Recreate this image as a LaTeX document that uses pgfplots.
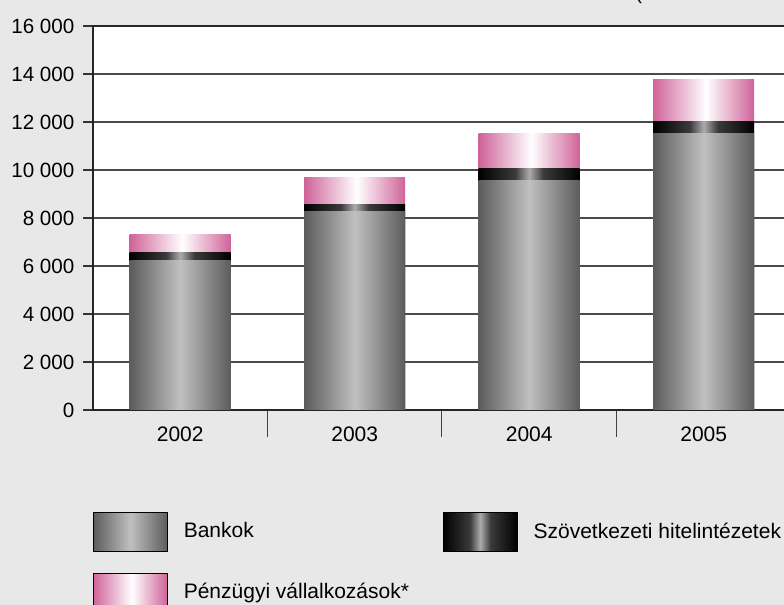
\documentclass[border=0pt]{standalone}
\usepackage{pgfplots}
\pgfplotsset{compat=1.18}
\usepackage{fontspec}
\setmainfont{Liberation Sans}

\definecolor{bg}{HTML}{E8E8E8}
\definecolor{bankedge}{HTML}{5C5C5C}
\definecolor{bankmid}{HTML}{C0C0C0}
\definecolor{szovmid}{HTML}{ACACAC}
\definecolor{szovdark}{HTML}{3A3A3A}
\definecolor{penzedge}{HTML}{CF6399}
\definecolor{penzmid}{HTML}{FFFFFF}
\definecolor{gridc}{HTML}{4A4A4A}

% horizontal shadings: the bar spans 25bp..75bp
\pgfdeclarehorizontalshading{bankshade}{100bp}{color(0bp)=(bankedge); color(25bp)=(bankedge); color(50bp)=(bankmid); color(75bp)=(bankedge); color(100bp)=(bankedge)}
\pgfdeclarehorizontalshading{szovshade}{100bp}{color(0bp)=(black); color(25bp)=(black); color(43bp)=(szovdark); color(50bp)=(szovmid); color(57bp)=(szovdark); color(75bp)=(black); color(100bp)=(black)}
\pgfdeclarehorizontalshading{penzshade}{100bp}{color(0bp)=(penzedge); color(25bp)=(penzedge); color(51bp)=(penzmid); color(75bp)=(penzedge); color(100bp)=(penzedge)}

% one shaded bar per path; segments are drawn from the cumulative top down
\pgfplotsset{
  seg/.style={ybar, bar width=50.5pt, bar shift=0pt, shade, shading=#1, draw=none, forget plot},
  swatch/.style={legend image code/.code={\path[shade, shading=#1] (0pt,-9.75pt) rectangle (37pt,9.75pt); \path (45pt,0pt);}},
}

\begin{document}
\begin{tikzpicture}[font=\fontsize{10.5pt}{12.6pt}\selectfont]
\fill[bg] (-60pt,-110pt) rectangle (400pt,220pt);
\begin{axis}[
  scale only axis,
  width=349pt, height=192pt,
  xmin=-0.5, xmax=3.5,
  ymin=0, ymax=16000,
  axis background/.style={fill=white},
  axis line style={draw=black!85, line width=0.6pt},
  ytick={0,2000,...,16000},
  scaled y ticks=false,
  ymajorgrids,
  major grid style={draw=gridc, line width=0.6pt},
  tick align=outside,
  major tick length=5pt,
  minor tick length=13.5pt,
  ytick style={draw=black!80, line width=0.6pt},
  ytick pos=left,
  xtick={0,1,2,3},
  xticklabels={2002,2003,2004,2005},
  minor xtick={0.5,1.5,2.5},
  xtick style={draw=black!75, line width=0.5pt},
  every major x tick/.style={draw=none},
  xtick pos=bottom,
  xticklabel style={yshift=0pt},
  /pgf/number format/fixed,
  /pgf/number format/assume math mode=true,
  /pgf/number format/1000 sep={\ },
  yticklabel style={xshift=-0.8pt, font=\fontsize{10.3pt}{12pt}\selectfont},
  legend columns=2,
  legend cell align=left,
  legend style={at={(0,-0.2656)}, anchor=north west, draw=none, fill=none,
    inner sep=0pt, outer sep=0pt, column sep=0pt, row sep=10.5pt,
    nodes={inner sep=0pt, font=\fontsize{10.5pt}{12.6pt}\selectfont}},
]
\addlegendimage{swatch=bankshade}
\addlegendentry{\makebox[129.5pt][l]{Bankok}}
\addlegendimage{swatch=szovshade}
\addlegendentry{Szövetkezeti hitelintézetek}
\addlegendimage{swatch=penzshade}
\addlegendentry{\makebox[129.5pt][l]{Pénzügyi vállalkozások*}}

% 2002
\addplot[seg=penzshade] coordinates {(0,7330)};
\addplot[seg=szovshade] coordinates {(0,6580)};
\addplot[seg=bankshade] coordinates {(0,6210)};
% 2003
\addplot[seg=penzshade] coordinates {(1,9670)};
\addplot[seg=szovshade] coordinates {(1,8580)};
\addplot[seg=bankshade] coordinates {(1,8290)};
% 2004
\addplot[seg=penzshade] coordinates {(2,11500)};
\addplot[seg=szovshade] coordinates {(2,10080)};
\addplot[seg=bankshade] coordinates {(2,9580)};
% 2005
\addplot[seg=penzshade] coordinates {(3,13790)};
\addplot[seg=szovshade] coordinates {(3,12000)};
\addplot[seg=bankshade] coordinates {(3,11500)};
\end{axis}
\node[anchor=base west, inner sep=0pt, font=\fontsize{10pt}{12pt}\selectfont] at (271pt,205pt) {(milliárd forintban)};
\pgfresetboundingbox
\path[use as bounding box] (-46.5pt,-97.5pt) rectangle (345.5pt,205pt);
\end{tikzpicture}
\end{document}
